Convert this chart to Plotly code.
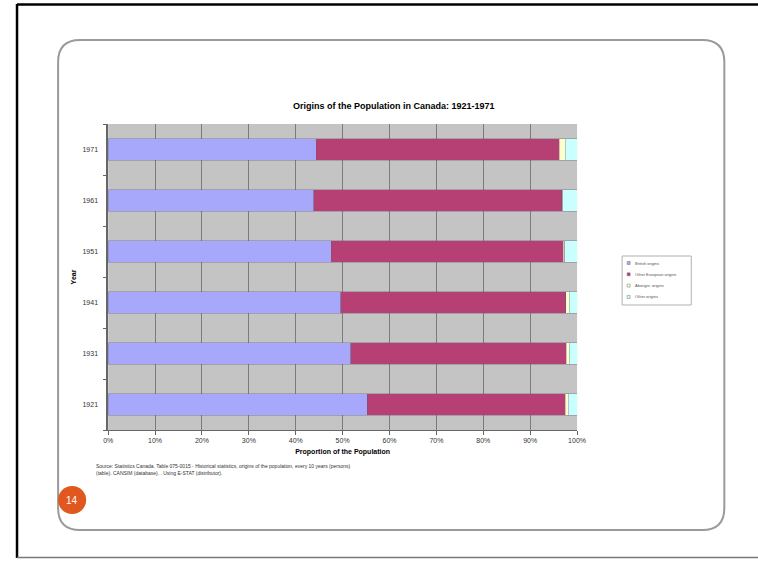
import plotly.graph_objects as go

W, H = 770, 562

years = ["1921", "1931", "1941", "1951", "1961", "1971"]
series_names = ["British origins", "Other European origins", "Aborigin. origins", "Other origins"]
british = [55.3, 51.7, 49.6, 47.6, 43.8, 44.4]
other_european = [42.2, 46.0, 48.0, 49.5, 52.9, 51.8]
aboriginal = [0.6, 0.6, 0.7, 0.3, 0.3, 1.3]
other = [1.9, 1.7, 1.7, 2.6, 3.0, 2.5]
colors = ["#A7A7FB", "#B63F74", "#FFFFCC", "#C9FFFF"]
x_ticks = [0, 10, 20, 30, 40, 50, 60, 70, 80, 90, 100]
x_tick_labels = [f"{v}%" for v in x_ticks]

# horizontal calibration of the captured picture
SX, OX = 0.98, 5.0


def px(x):
    return ((x - OX) / SX) / W


def py(y):
    return 1 - y / H


fig = go.Figure()
for name, vals, col in zip(series_names, [british, other_european, aboriginal, other], colors):
    fig.add_trace(go.Bar(
        y=years, x=vals, name=name, orientation="h",
        marker=dict(color=col, line=dict(color="rgba(90,90,110,0.55)", width=0.6)),
        showlegend=False,
    ))

shapes = []
# outer black frame
shapes.append(dict(type="line", xref="paper", yref="paper", x0=px(17), x1=1, y0=py(4.5), y1=py(4.5),
                   line=dict(color="black", width=2.5)))
shapes.append(dict(type="line", xref="paper", yref="paper", x0=px(17), x1=px(17), y0=py(4), y1=py(558),
                   line=dict(color="black", width=2.5)))
shapes.append(dict(type="line", xref="paper", yref="paper", x0=px(17), x1=1, y0=py(557.5), y1=py(557.5),
                   line=dict(color="#777777", width=1.5)))
# rounded rectangle
L, R, T, B, r = 58, 723, 40, 530, 22
path = (f"M {px(L+r)},{py(T)} L {px(R-r)},{py(T)} Q {px(R)},{py(T)} {px(R)},{py(T+r)} "
        f"L {px(R)},{py(B-r)} Q {px(R)},{py(B)} {px(R-r)},{py(B)} "
        f"L {px(L+r)},{py(B)} Q {px(L)},{py(B)} {px(L)},{py(B-r)} "
        f"L {px(L)},{py(T+r)} Q {px(L)},{py(T)} {px(L+r)},{py(T)} Z")
shapes.append(dict(type="path", xref="paper", yref="paper", path=path,
                   line=dict(color="#9a9a9a", width=2)))
# orange page circle
cx, cy, cr = 72, 500, 14
shapes.append(dict(type="circle", xref="paper", yref="paper", x0=px(cx-cr), x1=px(cx+cr), y0=py(cy+cr), y1=py(cy-cr),
                   fillcolor="#E0581E", line=dict(width=0)))
# legend box
lx0, ly0, lx1, ly1 = 621, 256, 690, 305
shapes.append(dict(type="rect", xref="paper", yref="paper", x0=px(lx0), x1=px(lx1), y0=py(ly1), y1=py(ly0),
                   line=dict(color="#b0b0b0", width=1), fillcolor="white"))

annotations = []
for i, (name, col) in enumerate(zip(series_names, colors)):
    yy = 263 + i * 11.3
    shapes.append(dict(type="rect", xref="paper", yref="paper", x0=px(626), x1=px(629), y0=py(yy+1.5), y1=py(yy-1.5),
                       fillcolor=col, line=dict(color="#777777", width=0.5)))
    annotations.append(dict(text=name, xref="paper", yref="paper", x=px(632), y=py(yy), xanchor="left", yanchor="middle",
                            showarrow=False, font=dict(size=4, color="#555555", family="Arial")))

annotations.append(dict(text="14", xref="paper", yref="paper", x=px(cx), y=py(cy), xanchor="center", yanchor="middle",
                        showarrow=False, font=dict(size=10, color="white", family="Arial Black, Arial")))
annotations.append(dict(text="<b>Origins of the Population in Canada: 1921-1971</b>", xref="paper", yref="paper",
                        x=px(393), y=py(106.5), xanchor="center", yanchor="middle", showarrow=False,
                        font=dict(size=9, color="black", family="Arial")))
annotations.append(dict(text="Source: Statistics Canada. Table 075-0015 - Historical statistics, origins of the population, every 10 years (persons)"
                             "<br>(table). CANSIM (database). . Using E-STAT (distributor).",
                        xref="paper", yref="paper", x=px(94), y=py(461), xanchor="left", yanchor="top", align="left",
                        showarrow=False, font=dict(size=5, color="#333333", family="Arial")))

fig.update_layout(
    width=W, height=H,
    margin=dict(l=0, r=0, t=0, b=0),
    paper_bgcolor="white",
    plot_bgcolor="#C4C4C4",
    barmode="stack",
    bargap=0.57,
    shapes=shapes,
    annotations=annotations,
    font=dict(family="Arial", color="#222222"),
    xaxis=dict(domain=[px(108), px(576)], range=[0, 100], tickvals=x_ticks, ticktext=x_tick_labels,
               showgrid=True, gridcolor="#7c7c7c", gridwidth=1, zeroline=False,
               showline=True, linecolor="#666666", linewidth=1, ticks="outside", ticklen=4, tickcolor="#666666",
               tickfont=dict(size=7, color="#333333"),
               title=dict(text="<b>Proportion of the Population</b>", font=dict(size=7, color="black"), standoff=5)),
    yaxis=dict(domain=[py(430), py(124)], showgrid=False, zeroline=False,
               showline=True, linecolor="#666666", linewidth=1.5, ticks="outside", ticklen=3, tickcolor="#666666",
               tickson="boundaries", ticklabelstandoff=7, tickfont=dict(size=7, color="#333333"),
               title=dict(text="<b>Year</b>", font=dict(size=7, color="black"), standoff=5)),
)

fig.write_html("out.html", config={"displayModeBar": False},
               post_script="document.body.style.margin='0';document.body.style.overflow='hidden';")
